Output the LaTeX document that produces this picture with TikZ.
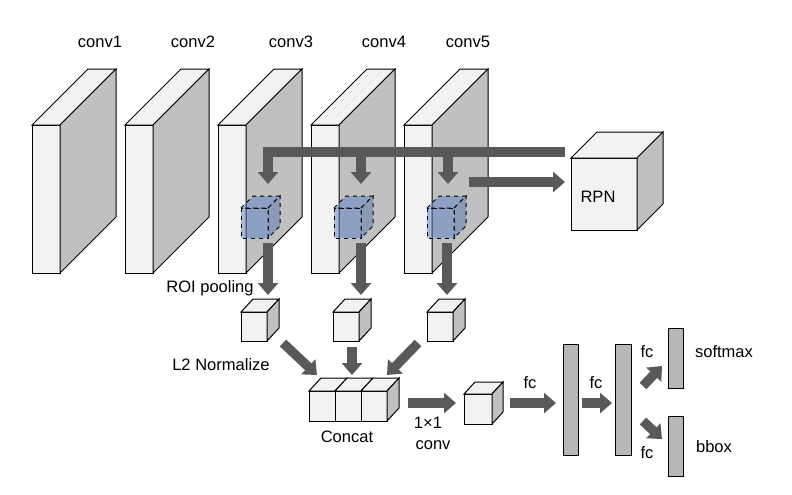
\documentclass[tikz,border=0pt]{standalone}
\usepackage{fontspec}
\setmainfont{Liberation Sans}
\usetikzlibrary{arrows.meta}

\begin{document}
\begin{tikzpicture}[x=0.75pt,y=0.75pt,yscale=-1,xscale=1,
    face/.style={draw={rgb, 255:red, 0; green, 0; blue, 0 }, line width=0.75, fill={rgb, 255:red, 242; green, 242; blue, 242 }},
    side/.style={draw={rgb, 255:red, 0; green, 0; blue, 0 }, line width=0.75, fill={rgb, 255:red, 192; green, 192; blue, 192 }},
    roiface/.style={draw={rgb, 255:red, 0; green, 0; blue, 0 }, line width=0.75, dashed, fill={rgb, 255:red, 90; green, 130; blue, 200 }, fill opacity=0.5},
    roiside/.style={draw={rgb, 255:red, 0; green, 0; blue, 0 }, line width=0.75, dashed, fill={rgb, 255:red, 75; green, 110; blue, 170 }, fill opacity=0.45},
    fcbar/.style={draw={rgb, 255:red, 0; green, 0; blue, 0 }, line width=0.75, fill={rgb, 255:red, 183; green, 183; blue, 183 }},
    flow/.style={draw={rgb, 255:red, 89; green, 89; blue, 89 }, line width=7pt, -{Triangle[length=9pt,width=15pt]}},
    lbl/.style={inner sep=0.75pt, font=\fontsize{12.4}{14}\selectfont}
  ]
  \useasboundingbox (0,0) rectangle (792,494);

  %Shape: Cube [conv1]
  \draw [face] (32,125) rectangle (60,273) ;
  \draw [face] (32,125) -- (88,69) -- (116,69) -- (60,125) -- cycle ;
  \draw [side] (60,125) -- (116,69) -- (116,217) -- (60,273) -- cycle ;
  %Shape: Cube [conv2]
  \draw [face] (125,125) rectangle (153,273) ;
  \draw [face] (125,125) -- (181,69) -- (209,69) -- (153,125) -- cycle ;
  \draw [side] (153,125) -- (209,69) -- (209,217) -- (153,273) -- cycle ;
  %Shape: Cube [conv3]
  \draw [face] (218,125) rectangle (246,273) ;
  \draw [face] (218,125) -- (274,69) -- (302,69) -- (246,125) -- cycle ;
  \draw [side] (246,125) -- (302,69) -- (302,217) -- (246,273) -- cycle ;
  %Shape: Cube [conv4]
  \draw [face] (311,125) rectangle (339,273) ;
  \draw [face] (311,125) -- (367,69) -- (395,69) -- (339,125) -- cycle ;
  \draw [side] (339,125) -- (395,69) -- (395,217) -- (339,273) -- cycle ;
  %Shape: Cube [conv5]
  \draw [face] (404,125) rectangle (432,273) ;
  \draw [face] (404,125) -- (460,69) -- (488,69) -- (432,125) -- cycle ;
  \draw [side] (432,125) -- (488,69) -- (488,217) -- (432,273) -- cycle ;

  %Shape: Cube [RPN]
  \draw [face] (571,158) rectangle (637,230) ;
  \draw [face] (571,158) -- (597,132) -- (663,132) -- (637,158) -- cycle ;
  \draw [side] (637,158) -- (663,132) -- (663,204) -- (637,230) -- cycle ;

  %Shape: Cube [roi on conv3]
  \draw [roiface] (241,208) rectangle (268,238) ;
  \draw [roiface] (241,208) -- (253,196) -- (280,196) -- (268,208) -- cycle ;
  \draw [roiside] (268,208) -- (280,196) -- (280,226) -- (268,238) -- cycle ;
  %Shape: Cube [roi on conv4]
  \draw [roiface] (334,208) rectangle (361,238) ;
  \draw [roiface] (334,208) -- (346,196) -- (373,196) -- (361,208) -- cycle ;
  \draw [roiside] (361,208) -- (373,196) -- (373,226) -- (361,238) -- cycle ;
  %Shape: Cube [roi on conv5]
  \draw [roiface] (427,208) rectangle (454,238) ;
  \draw [roiface] (427,208) -- (439,196) -- (466,196) -- (454,208) -- cycle ;
  \draw [roiside] (454,208) -- (466,196) -- (466,226) -- (454,238) -- cycle ;

  %Shape: Cube [pooled 1]
  \draw [face] (241,312) rectangle (267,341) ;
  \draw [face] (241,312) -- (253,299) -- (279,299) -- (267,312) -- cycle ;
  \draw [side] (267,312) -- (279,299) -- (279,328) -- (267,341) -- cycle ;
  %Shape: Cube [pooled 2]
  \draw [face] (333,312) rectangle (359,341) ;
  \draw [face] (333,312) -- (345,299) -- (371,299) -- (359,312) -- cycle ;
  \draw [side] (359,312) -- (371,299) -- (371,328) -- (359,341) -- cycle ;
  %Shape: Cube [pooled 3]
  \draw [face] (427,312) rectangle (453,341) ;
  \draw [face] (427,312) -- (439,299) -- (465,299) -- (453,312) -- cycle ;
  \draw [side] (453,312) -- (465,299) -- (465,328) -- (453,341) -- cycle ;

  %Shape: Cubes [concat]
  \draw [face] (309,391) rectangle (335,421) ;
  \draw [face] (309,391) -- (321,378) -- (347,378) -- (335,391) -- cycle ;
  \draw [face] (335,391) rectangle (361,421) ;
  \draw [face] (335,391) -- (347,378) -- (373,378) -- (361,391) -- cycle ;
  \draw [face] (361,391) rectangle (387,421) ;
  \draw [face] (361,391) -- (373,378) -- (399,378) -- (387,391) -- cycle ;
  \draw [side] (387,391) -- (399,378) -- (399,408) -- (387,421) -- cycle ;

  %Shape: Cube [after 1x1 conv]
  \draw [face] (464,394) rectangle (492,424) ;
  \draw [face] (464,394) -- (475,382) -- (503,382) -- (492,394) -- cycle ;
  \draw [side] (492,394) -- (503,382) -- (503,412) -- (492,424) -- cycle ;

  %Shape: Rectangle [fc layers]
  \draw [fcbar] (563,344) rectangle (578,455) ;
  \draw [fcbar] (615,344) rectangle (631,455) ;
  \draw [fcbar] (668,328) rectangle (683,388) ;
  \draw [fcbar] (668,416) rectangle (683,476) ;

  % arrow ends
  \coordinate (barR) at (565,152) ;
  \coordinate (drop3) at (268,184) ;
  \coordinate (tap4) at (361,152) ;
  \coordinate (drop4) at (361,184) ;
  \coordinate (tap5) at (448,152) ;
  \coordinate (drop5) at (448,184) ;
  \coordinate (rpnOut) at (469,182) ;
  \coordinate (rpnIn) at (565,182) ;
  \coordinate (roi3) at (268,243) ;
  \coordinate (pool3) at (268,295) ;
  \coordinate (roi4) at (361,243) ;
  \coordinate (pool4) at (361,295) ;
  \coordinate (roi5) at (447,243) ;
  \coordinate (pool5) at (447,295) ;
  \coordinate (norm1) at (283,343) ;
  \coordinate (cat1) at (317,375) ;
  \coordinate (norm2) at (352,347) ;
  \coordinate (cat2) at (352,375) ;
  \coordinate (norm3) at (418,343) ;
  \coordinate (cat3) at (387,375) ;
  \coordinate (catOut) at (408,403) ;
  \coordinate (convIn) at (456,403) ;
  \coordinate (convOut) at (510,403) ;
  \coordinate (fcaIn) at (556,403) ;
  \coordinate (fcaOut) at (582,403) ;
  \coordinate (fcbIn) at (612,403) ;
  \coordinate (clsOut) at (643,386) ;
  \coordinate (clsIn) at (662,366) ;
  \coordinate (boxOut) at (643,421) ;
  \coordinate (boxIn) at (662,439) ;

  %Arrows
  \draw [flow] (barR) -| (drop3) ;
  \draw [flow] (tap4) -- (drop4) ;
  \draw [flow] (tap5) -- (drop5) ;
  \draw [flow] (rpnOut) -- (rpnIn) ;
  \draw [flow] (roi3) -- (pool3) ;
  \draw [flow] (roi4) -- (pool4) ;
  \draw [flow] (roi5) -- (pool5) ;
  \draw [flow] (norm1) -- (cat1) ;
  \draw [flow] (norm2) -- (cat2) ;
  \draw [flow] (norm3) -- (cat3) ;
  \draw [flow] (catOut) -- (convIn) ;
  \draw [flow] (convOut) -- (fcaIn) ;
  \draw [flow] (fcaOut) -- (fcbIn) ;
  \draw [flow] (clsOut) -- (clsIn) ;
  \draw [flow] (boxOut) -- (boxIn) ;

  % Text Node
  \draw (100,47) node [anchor=base][lbl] (lconv1) {conv1};
  % Text Node
  \draw (193,47) node [anchor=base][lbl] (lconv2) {conv2};
  % Text Node
  \draw (291,47) node [anchor=base][lbl] (lconv3) {conv3};
  % Text Node
  \draw (384,47) node [anchor=base][lbl] (lconv4) {conv4};
  % Text Node
  \draw (468,47) node [anchor=base][lbl] (lconv5) {conv5};
  % Text Node
  \draw (598,202) node [anchor=base][lbl] (lrpn) {RPN};
  % Text Node
  \draw (210,292) node [anchor=base][lbl] (lroi) {ROI pooling};
  % Text Node
  \draw (221,370) node [anchor=base][lbl] (lnorm) {L2 Normalize};
  % Text Node
  \draw (347,442) node [anchor=base][lbl] (lconcat) {Concat};
  % Text Node
  \draw (428,428) node [anchor=base][lbl] (lkernel) {1×1};
  % Text Node
  \draw (433,449) node [anchor=base][lbl] (lconv) {conv};
  % Text Node
  \draw (530,388) node [anchor=base][lbl] (lfca) {fc};
  % Text Node
  \draw (596,388) node [anchor=base][lbl] (lfcb) {fc};
  % Text Node
  \draw (647,357) node [anchor=base][lbl] (lfccls) {fc};
  % Text Node
  \draw (647,458) node [anchor=base][lbl] (lfcbox) {fc};
  % Text Node
  \draw (724,357) node [anchor=base][lbl] (lsoftmax) {softmax};
  % Text Node
  \draw (714,452) node [anchor=base][lbl] (lbbox) {bbox};
\end{tikzpicture}
\end{document}
